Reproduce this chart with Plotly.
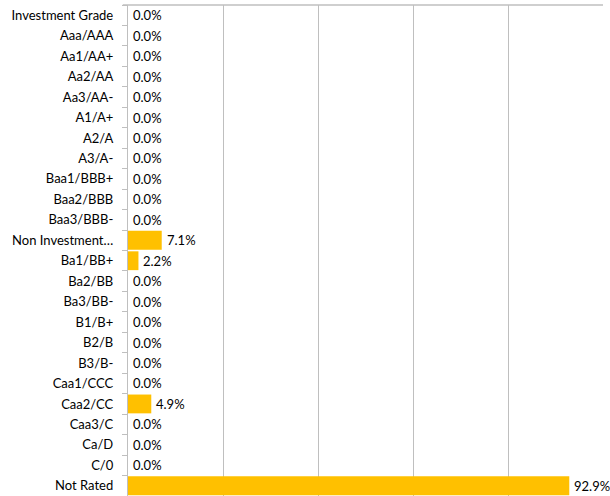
import plotly.graph_objects as go

categories = ["Investment Grade", "Aaa/AAA", "Aa1/AA+", "Aa2/AA", "Aa3/AA-", "A1/A+", "A2/A", "A3/A-",
              "Baa1/BBB+", "Baa2/BBB", "Baa3/BBB-", "Non Investment…", "Ba1/BB+", "Ba2/BB", "Ba3/BB-",
              "B1/B+", "B2/B", "B3/B-", "Caa1/CCC", "Caa2/CC", "Caa3/C", "Ca/D", "C/0", "Not Rated"]
values = [0.0, 0.0, 0.0, 0.0, 0.0, 0.0, 0.0, 0.0,
          0.0, 0.0, 0.0, 7.1, 2.2, 0.0, 0.0,
          0.0, 0.0, 0.0, 0.0, 4.9, 0.0, 0.0, 0.0, 92.9]
labels = [f"{v:.1f}%" for v in values]

FONT = "Lato"
FS = 13

fig = go.Figure()
fig.add_trace(go.Bar(
    y=categories, x=values, orientation="h",
    marker=dict(color="#FFC000", line=dict(width=0)),
    hoverinfo="skip",
))

for c, v, t in zip(categories, values, labels):
    fig.add_annotation(x=v, y=c, xref="x", yref="y", text=t, showarrow=False,
                       xanchor="left", yanchor="middle", xshift=3,
                       font=dict(family=FONT, size=FS, color="#000000"))

fig.add_shape(type="line", xref="paper", yref="paper", x0=-0.011, x1=1, y0=1, y1=1,
              line=dict(color="#BFBFBF", width=1.3))

fig.update_layout(
    width=610, height=496,
    margin=dict(l=128, r=7, t=5, b=0),
    paper_bgcolor="white", plot_bgcolor="white",
    bargap=0.08,
    showlegend=False,
    font=dict(family=FONT, size=FS, color="#000000"),
    xaxis=dict(range=[0, 100], dtick=20, showgrid=True, gridcolor="#BFBFBF", gridwidth=1.3,
               showticklabels=False, zeroline=False, showline=False, fixedrange=True),
    yaxis=dict(type="category", categoryorder="array", categoryarray=categories,
               autorange="reversed", tickson="boundaries", ticks="outside", ticklen=5,
               tickcolor="#BFBFBF", tickwidth=1.3, showline=True, linecolor="#BFBFBF", linewidth=1.3,
               showgrid=False, zeroline=False, ticklabelstandoff=11,
               tickfont=dict(family=FONT, size=FS, color="#000000")),
)

fig.write_html("out.html")
